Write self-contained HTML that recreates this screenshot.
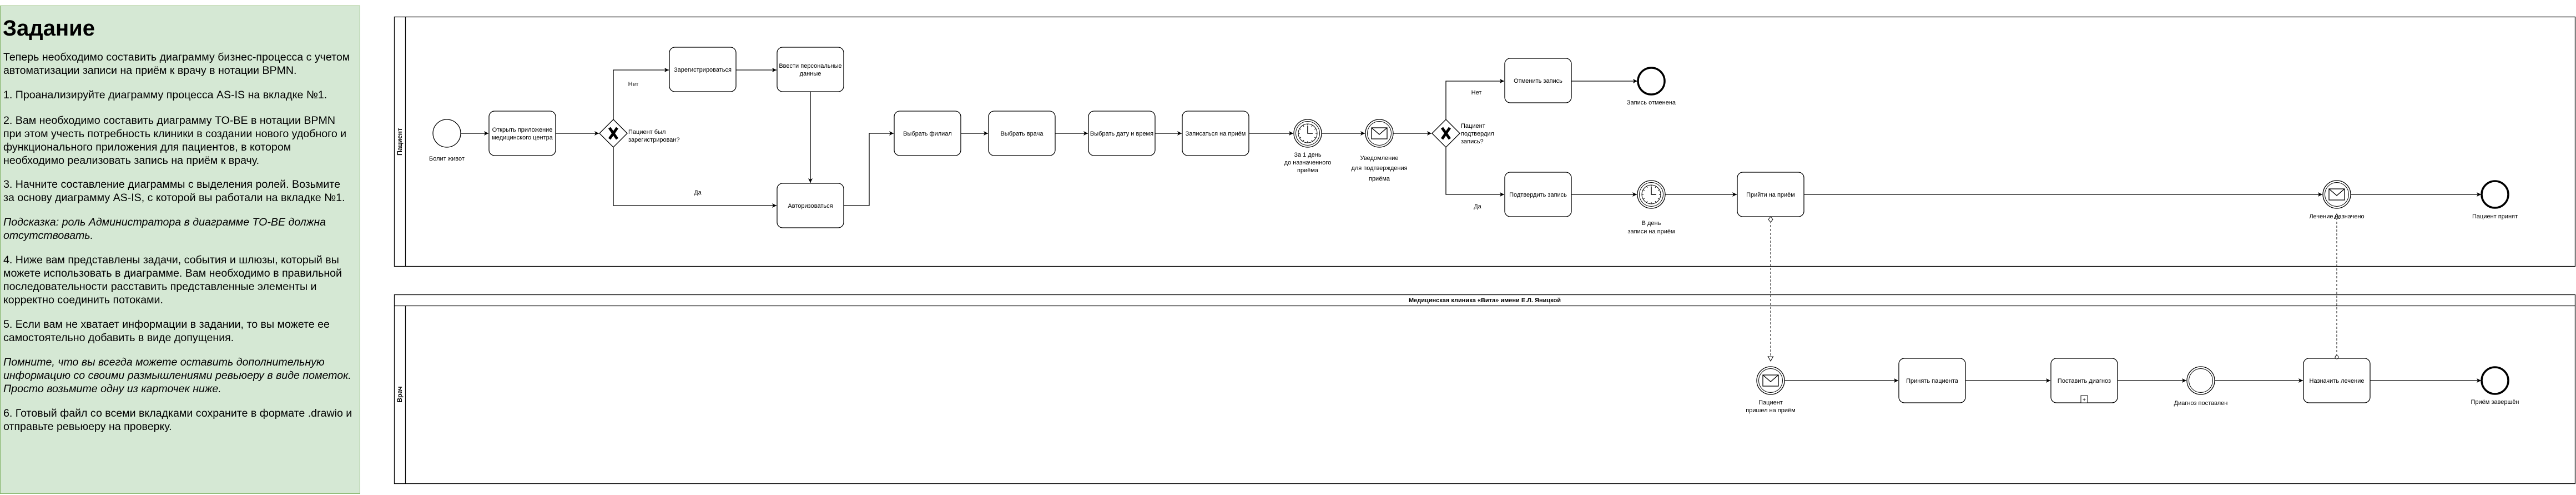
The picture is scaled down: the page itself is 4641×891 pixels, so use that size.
<!DOCTYPE html>
<html><head><meta charset="utf-8">
<style>
html,body{margin:0;padding:0;background:#fff;}
body{width:4641px;height:891px;position:relative;overflow:hidden;font-family:"Liberation Sans",Arial,sans-serif;}
#panel{position:absolute;left:0;top:10px;width:649px;height:879px;background:#d5e8d4;border:1px solid #82b366;box-sizing:border-box;}
#panel h1{position:absolute;left:4px;top:18px;margin:0;font-size:40px;line-height:44px;font-weight:bold;color:#000;}
#panel p{position:absolute;left:5px;margin:0;font-size:19.6px;line-height:24px;color:#000;white-space:nowrap;}
#panel p.i{font-style:italic;}
svg{position:absolute;left:0;top:0;}
svg text{font-family:"Liberation Sans",Arial,sans-serif;font-size:11px;fill:#000;}
</style></head><body>
<div id="panel">
<h1>Задание</h1>
<p style="top:80px">Теперь необходимо составить диаграмму бизнес-процесса с учетом<br>автоматизации записи на приём к врачу в нотации BPMN.</p>
<p style="top:148px">1. Проанализируйте диаграмму процесса AS-IS на вкладке №1.</p>
<p style="top:194px">2. Вам необходимо составить диаграмму TO-BE в нотации BPMN<br>при этом учесть потребность клиники в создании нового удобного и<br>функционального приложения для пациентов, в котором<br>необходимо реализовать запись на приём к врачу.</p>
<p style="top:309px">3. Начните составление диаграммы с выделения ролей. Возьмите<br>за основу диаграмму AS-IS, с которой вы работали на вкладке №1.</p>
<p class="i" style="top:377px">Подсказка: роль Администратора в диаграмме TO-BE должна<br>отсутствовать.</p>
<p style="top:445px">4. Ниже вам представлены задачи, события и шлюзы, который вы<br>можете использовать в диаграмме. Вам необходимо в правильной<br>последовательности расставить представленные элементы и<br>корректно соединить потоками.</p>
<p style="top:561px">5. Если вам не хватает информации в задании, то вы можете ее<br>самостоятельно добавить в виде допущения.</p>
<p class="i" style="top:629px">Помните, что вы всегда можете оставить дополнительную<br>информацию со своими размышлениями ревьюеру в виде пометок.<br>Просто возьмите одну из карточек ниже.</p>
<p style="top:721px">6. Готовый файл со всеми вкладками сохраните в формате .drawio и<br>отправьте ревьюеру на проверку.</p>
</div>

<svg width="4641" height="891" viewBox="0 0 4641 891">
<defs>
<marker id="a" markerWidth="10" markerHeight="10" refX="8" refY="4" orient="auto" markerUnits="userSpaceOnUse">
<path d="M0,0 L8,4 L0,8 L2,4 Z" fill="#000"/></marker>
<marker id="h" markerWidth="12" markerHeight="12" refX="9" refY="5" orient="auto" markerUnits="userSpaceOnUse">
<path d="M0,0 L9,5 L0,10 Z" fill="#fff" stroke="#000"/></marker>
<g id="clock"><circle r="25" fill="#fff" stroke="#000" stroke-width="1.3"/><circle r="21.5" fill="none" stroke="#000" stroke-width="1"/><circle r="17" fill="none" stroke="#000" stroke-width="1"/>
<g stroke="#000" stroke-width="1"><line x1="0" y1="-17" x2="0" y2="-14"/><line x1="0" y1="17" x2="0" y2="14"/><line x1="-17" y1="0" x2="-14" y2="0"/><line x1="17" y1="0" x2="14" y2="0"/>
<line x1="8.5" y1="-14.7" x2="7" y2="-12.1"/><line x1="14.7" y1="-8.5" x2="12.1" y2="-7"/><line x1="14.7" y1="8.5" x2="12.1" y2="7"/><line x1="8.5" y1="14.7" x2="7" y2="12.1"/>
<line x1="-8.5" y1="14.7" x2="-7" y2="12.1"/><line x1="-14.7" y1="8.5" x2="-12.1" y2="7"/><line x1="-14.7" y1="-8.5" x2="-12.1" y2="-7"/><line x1="-8.5" y1="-14.7" x2="-7" y2="-12.1"/>
<polyline points="0,-13 0,0 9,0" fill="none" stroke-width="1.5"/></g></g>
<g id="msg"><circle r="25" fill="#fff" stroke="#000" stroke-width="1.3"/><circle r="21.5" fill="none" stroke="#000" stroke-width="1"/>
<rect x="-14" y="-10" width="28" height="20" fill="#fff" stroke="#000" stroke-width="1.3"/><polyline points="-14,-10 0,2 14,-10" fill="none" stroke="#000" stroke-width="1.3"/></g>
</defs>

<!-- Pool Пациент -->
<rect x="710.5" y="30.5" width="3929" height="449" fill="none" stroke="#000" stroke-width="1.3"/>
<line x1="730.5" y1="30" x2="730.5" y2="480" stroke="#000" stroke-width="1.3"/>
<text transform="translate(724,255) rotate(-90)" text-anchor="middle" font-weight="bold" style="font-size:12px">Пациент</text>

<!-- Pool clinic -->
<rect x="710.5" y="530.5" width="3929" height="340" fill="none" stroke="#000" stroke-width="1.3"/>
<line x1="710" y1="550.5" x2="4640" y2="550.5" stroke="#000" stroke-width="1.3"/>
<line x1="730.5" y1="550" x2="730.5" y2="871" stroke="#000" stroke-width="1.3"/>
<text x="2675" y="544" text-anchor="middle" font-weight="bold">Медицинская клиника «Вита» имени Е.Л. Яницкой</text>
<text transform="translate(724,710) rotate(-90)" text-anchor="middle" font-weight="bold" style="font-size:12px">Врач</text>

<g fill="#fff" stroke="#000" stroke-width="1.3">
<rect x="881" y="200" width="120" height="80" rx="10"/>
<rect x="1206" y="85" width="120" height="80" rx="10"/>
<rect x="1400" y="85" width="120" height="80" rx="10"/>
<rect x="1400" y="330" width="120" height="80" rx="10"/>
<rect x="1611" y="200" width="120" height="80" rx="10"/>
<rect x="1781" y="200" width="120" height="80" rx="10"/>
<rect x="1961" y="200" width="120" height="80" rx="10"/>
<rect x="2130" y="200" width="120" height="80" rx="10"/>
<rect x="2711" y="105" width="120" height="80" rx="10"/>
<rect x="2711" y="310" width="120" height="80" rx="10"/>
<rect x="3130" y="310" width="120" height="80" rx="10"/>
<rect x="3421" y="645" width="120" height="80" rx="10"/>
<rect x="3695" y="645" width="120" height="80" rx="10"/>
<rect x="4150" y="645" width="120" height="80" rx="10"/>
<rect x="3749" y="712" width="12" height="13" stroke-width="1"/>
</g>
<text x="3755" y="723" text-anchor="middle" style="font-size:10px">+</text>

<!-- events -->
<circle cx="805" cy="240" r="25" fill="#fff" stroke="#000" stroke-width="1.3"/>
<use href="#clock" x="2356" y="240"/>
<use href="#msg" x="2485" y="240"/>
<circle cx="2975" cy="146" r="24" fill="#fff" stroke="#000" stroke-width="3.5"/>
<use href="#clock" x="2975" y="350"/>
<use href="#msg" x="4210" y="350"/>
<circle cx="4495" cy="350" r="24" fill="#fff" stroke="#000" stroke-width="3.5"/>
<use href="#msg" x="3190" y="685"/>
<circle cx="3965" cy="685" r="25" fill="#fff" stroke="#000" stroke-width="1.3"/>
<circle cx="3965" cy="685" r="21.5" fill="none" stroke="#000" stroke-width="1"/>
<circle cx="4495" cy="685" r="24" fill="#fff" stroke="#000" stroke-width="3.5"/>

<!-- gateways -->
<g stroke="#000" stroke-width="1.3" fill="#fff">
<polygon points="1105,215 1130,240 1105,265 1080,240"/>
<polygon points="2605,215 2630,240 2605,265 2580,240"/>
</g>
<g stroke="#000" stroke-width="5" stroke-linecap="butt">
<line x1="1098" y1="230" x2="1112" y2="250"/><line x1="1112" y1="230" x2="1098" y2="250"/>
<line x1="2598" y1="230" x2="2612" y2="250"/><line x1="2612" y1="230" x2="2598" y2="250"/>
</g>

<!-- flows -->
<g fill="none" stroke="#000" stroke-width="1.3" marker-end="url(#a)">
<line x1="830" y1="240" x2="880" y2="240"/>
<line x1="1001" y1="240" x2="1079" y2="240"/>
<polyline points="1105,215 1105,126 1205,126"/>
<line x1="1326" y1="126" x2="1399" y2="126"/>
<line x1="1460" y1="165" x2="1460" y2="329"/>
<polyline points="1105,265 1105,370 1399,370"/>
<polyline points="1520,370 1566,370 1566,240 1610,240"/>
<line x1="1731" y1="240" x2="1780" y2="240"/>
<line x1="1901" y1="240" x2="1960" y2="240"/>
<line x1="2081" y1="240" x2="2129" y2="240"/>
<line x1="2250" y1="240" x2="2330" y2="240"/>
<line x1="2381" y1="240" x2="2459" y2="240"/>
<line x1="2510" y1="240" x2="2579" y2="240"/>
<polyline points="2605,215 2605,146 2710,146"/>
<line x1="2831" y1="146" x2="2950" y2="146"/>
<polyline points="2605,265 2605,350 2710,350"/>
<line x1="2831" y1="350" x2="2949" y2="350"/>
<line x1="3000" y1="350" x2="3129" y2="350"/>
<line x1="3250" y1="350" x2="4184" y2="350"/>
<line x1="4235" y1="350" x2="4470" y2="350"/>
<line x1="3215" y1="685" x2="3420" y2="685"/>
<line x1="3541" y1="685" x2="3694" y2="685"/>
<line x1="3815" y1="685" x2="3939" y2="685"/>
<line x1="3990" y1="685" x2="4149" y2="685"/>
<line x1="4270" y1="685" x2="4470" y2="685"/>
</g>
<!-- message flows -->
<g fill="none" stroke="#000" stroke-width="1" stroke-dasharray="4,3">
<line x1="3190" y1="398" x2="3190" y2="650" marker-end="url(#h)"/>
<line x1="4210" y1="641" x2="4210" y2="385" marker-end="url(#h)"/>
</g>
<polygon points="3190,390 3194,395 3190,400 3186,395" fill="#fff" stroke="#000"/>
<circle cx="4210" cy="643" r="3" fill="#fff" stroke="#000"/>

<!-- labels -->
<g text-anchor="middle">
<text x="805" y="289">Болит живот</text>
<text x="941" y="237">Открыть приложение</text>
<text x="941" y="251">медицинского центра</text>
<text x="1266" y="129">Зарегистрироваться</text>
<text x="1460" y="122">Ввести персональные</text>
<text x="1460" y="136">данные</text>
<text x="1460" y="374">Авторизоваться</text>
<text x="1671" y="244">Выбрать филиал</text>
<text x="1841" y="244">Выбрать врача</text>
<text x="2021" y="244">Выбрать дату и время</text>
<text x="2190" y="244">Записаться на приём</text>
<text x="2356" y="282">За 1 день</text>
<text x="2356" y="296">до назначенного</text>
<text x="2356" y="310">приёма</text>
<text x="2485" y="288">Уведомление</text>
<text x="2485" y="306">для подтверждения</text>
<text x="2485" y="325">приёма</text>
<text x="2771" y="149">Отменить запись</text>
<text x="2975" y="188">Запись отменена</text>
<text x="2771" y="354">Подтвердить запись</text>
<text x="2975" y="405">В день</text>
<text x="2975" y="420">записи на приём</text>
<text x="3190" y="354">Прийти на приём</text>
<text x="4210" y="393">Лечение назначено</text>
<text x="4495" y="393">Пациент принят</text>
<text x="3190" y="728">Пациент</text>
<text x="3190" y="742">пришел на приём</text>
<text x="3481" y="689">Принять пациента</text>
<text x="3755" y="689">Поставить диагноз</text>
<text x="3965" y="729">Диагноз поставлен</text>
<text x="4210" y="689">Назначить лечение</text>
<text x="4495" y="727">Приём завершён</text>
<text x="1141" y="155">Нет</text>
<text x="1257" y="350">Да</text>
<text x="2660" y="170">Нет</text>
<text x="2662" y="375">Да</text>
</g>
<text x="1132" y="241">Пациент был</text>
<text x="1132" y="255">зарегистрирован?</text>
<text x="2632" y="230">Пациент</text>
<text x="2632" y="244">подтвердил</text>
<text x="2632" y="258">запись?</text>
</svg>
</body></html>
